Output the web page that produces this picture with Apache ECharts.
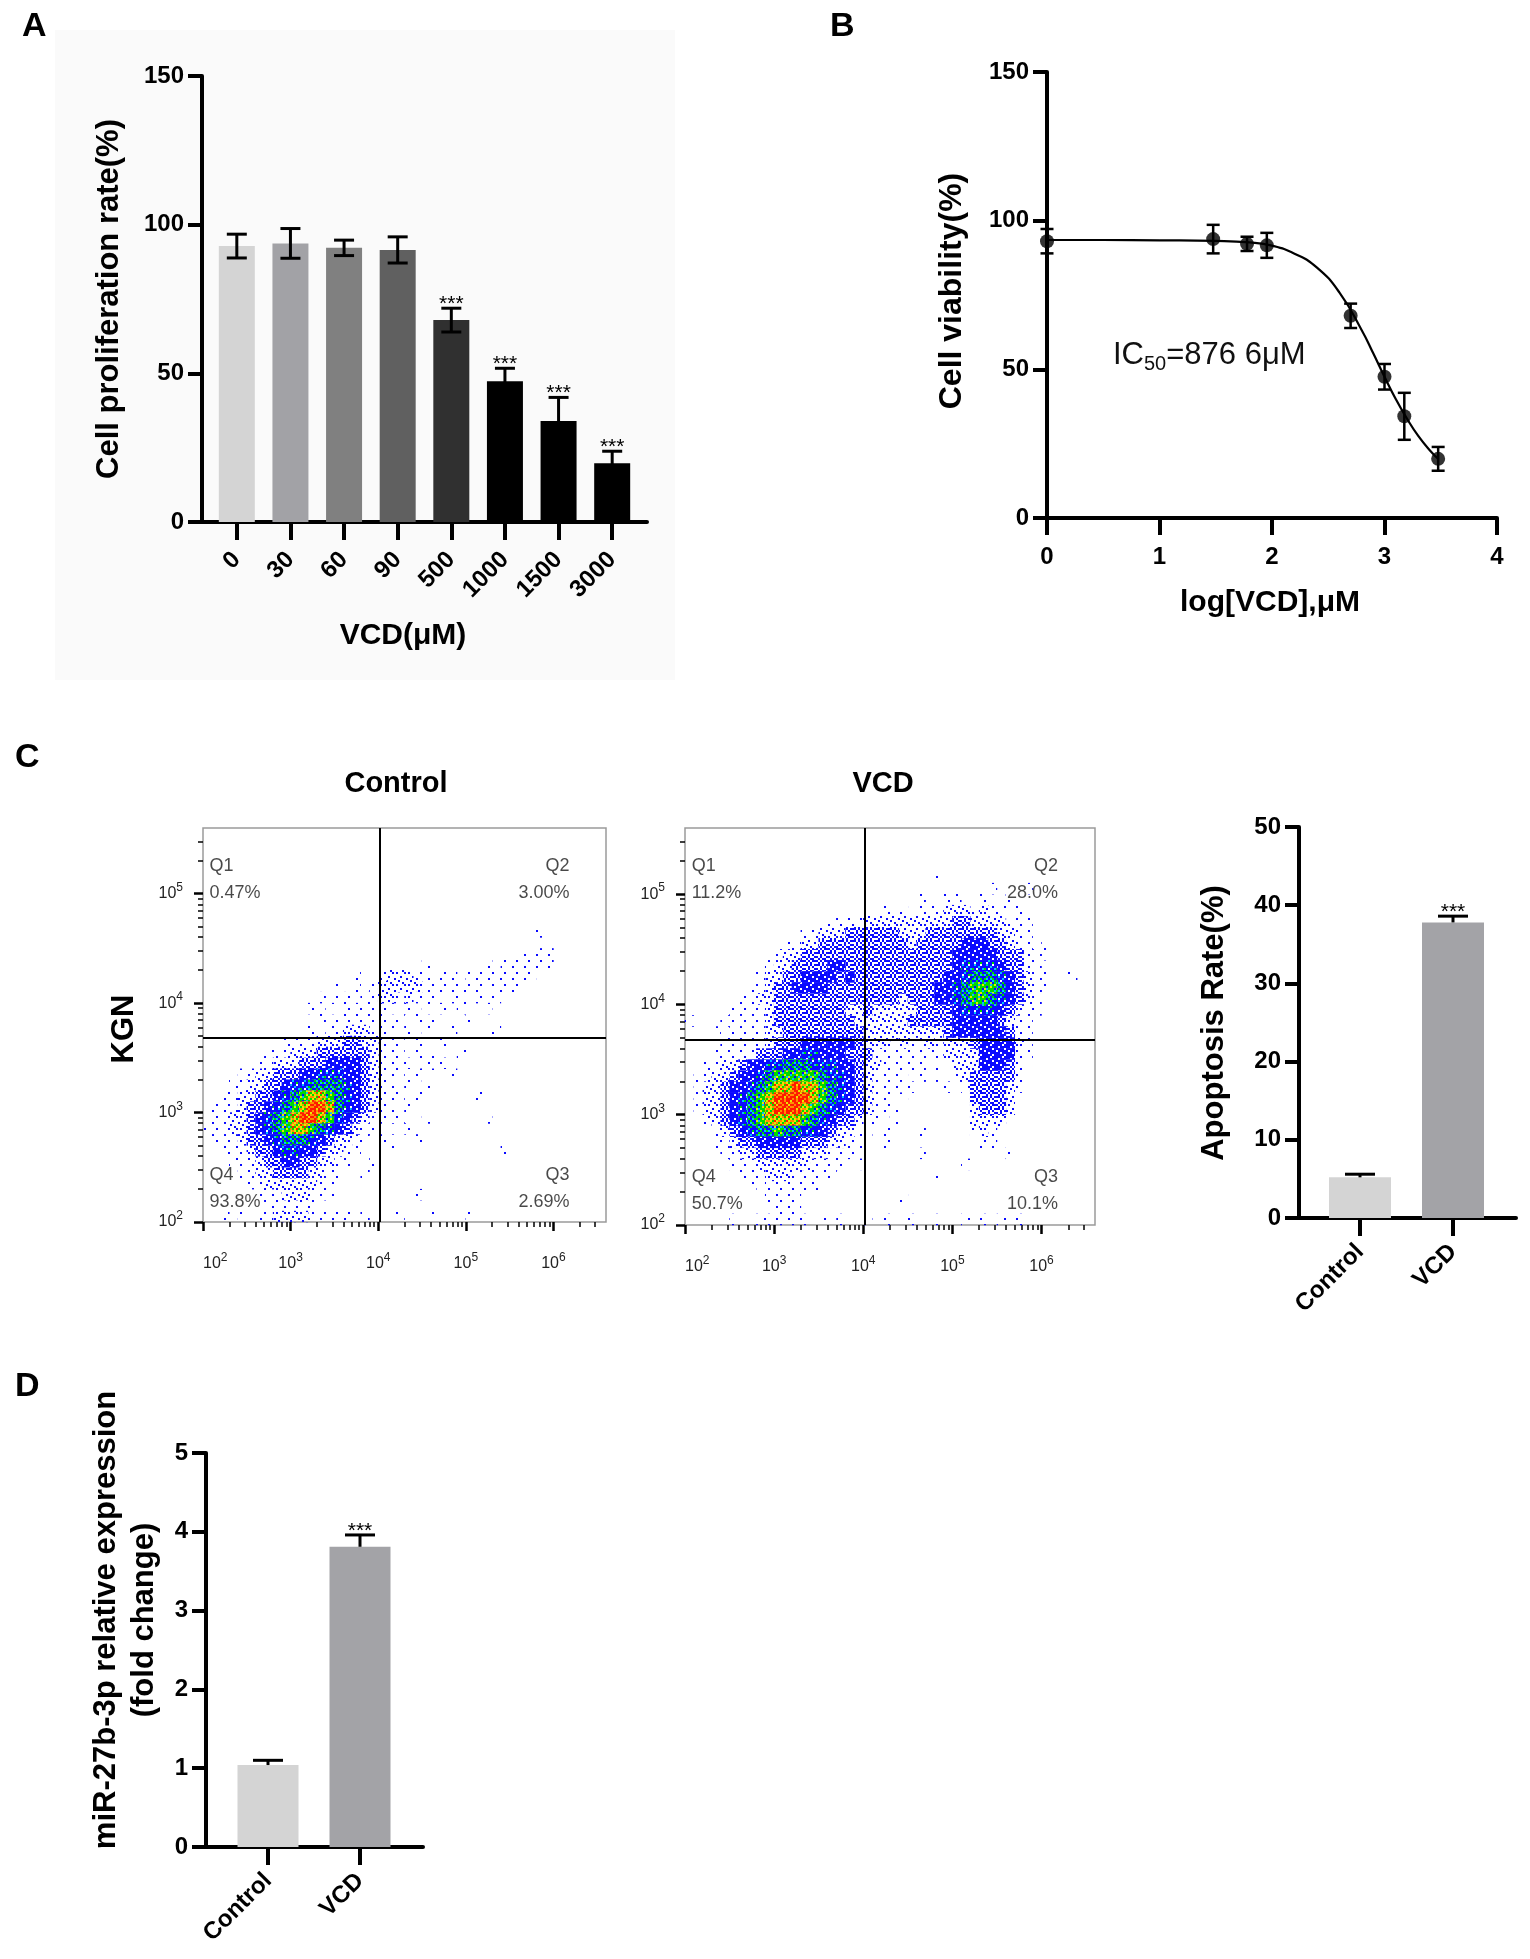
<!DOCTYPE html>
<html lang="en">
<head>
<meta charset="utf-8" />
<title>VCD cell assays</title>
</head>
<body style="margin: 0; background: #ffffff">
<div id="container" style="width: 1530px; height: 1959px"></div>
<script src="https://cdn.jsdelivr.net/npm/echarts@6/dist/echarts.min.js"></script>
<script>
// ---------- values ----------
// A: proliferation bars
const doseLabels = ['0', '30', '60', '90', '500', '1000', '1500', '3000'];
const prolifMean = [92.8, 93.7, 92.2, 91.5, 67.9, 47.3, 34.0, 19.8];
const prolifSd = [4.0, 5.0, 2.6, 4.4, 4.0, 4.4, 7.9, 4.0];
const prolifSig = ['', '', '', '', '***', '***', '***', '***'];

// B: viability vs log dose, and the fitted curve
const logDose = [0, 1.477, 1.778, 1.954, 2.699, 3.0, 3.176, 3.477];
const viabMean = [93.1, 93.8, 92.2, 91.7, 68.0, 47.5, 34.2, 19.9];
const viabSd = [4.1, 4.8, 2.4, 4.2, 4.1, 4.3, 7.9, 4.0];
const fitLogDose = [0, 0.5, 1.0, 1.5, 1.8, 2.0, 2.2, 2.4, 2.6, 2.8, 2.9, 3.0, 3.1, 3.2, 3.3, 3.4, 3.48];
const fitViab = [93.5, 93.5, 93.4, 93.2, 92.7, 91.6, 88.9, 84.2, 75.8, 63.0, 55.4, 47.5, 40.0, 33.4, 27.6, 22.9, 19.8];

// C: flow quadrants (Q1..Q4) and apoptosis bars
const quadNames = ['Q1', 'Q2', 'Q3', 'Q4'];
const ctlQuadPct = ['0.47%', '3.00%', '2.69%', '93.8%'];
const vcdQuadPct = ['11.2%', '28.0%', '10.1%', '50.7%'];
const gateLogX = 4.02;
const gateLogY = 3.68;
const groups = ['Control', 'VCD'];
const apopMean = [5.2, 37.8];
const apopSd = [0.4, 0.8];
const apopSig = ['', '***'];

// dot density, estimated by eye on 0.1-decade bins: rows top (10^5.6) to bottom (10^2),
// columns from 10^2 to 10^6.6; 0 empty, 1 a few dots ... 9 densest (red)
const ctlDensity = [
  '', '', '', '', '', '', '', '', '',
  '0000000000 0000000000 0000000000 0000000010',
  '',
  '0000000000 0000000000 0000000000 0000001011',
  '0000000000 0000000000 0000010000 0010111111',
  '0000000000 0000000100 1222110110 1111111100',
  '0000000000 0000010101 2222211111 1101110000',
  '0000000000 0001011011 2212111011 0101000000',
  '0000000000 0010101111 1101010101 0010000000',
  '0000000000 0001011111 1010101000 1000000000',
  '0000000000 0010112221 1101010010 0001000000',
  '0000000001 1112223322 1110100100',
  '0000000111 2223333332 1110101001',
  '0000001122 2333444432 1111010100',
  '0000112233 3445554432 1110101010',
  '0001122334 5566665432 1101010000',
  '0011223345 6788765432 1110100000 0100000000',
  '0111233456 7899865432 1101000000',
  '0112234567 8998754321 1010010000 0010000000',
  '1112234567 8876543211 0101000000',
  '0111233456 6654322110 1000100000',
  '0011123345 5443221100 0100000000 0000100000',
  '0001112334 4332211001',
  '0000112233 3322110010',
  '0000011222 2221100000',
  '0000001112 2211100000 0000100000',
  '0000000111 1110000000',
  '0010101122 2211111010 0010001000 1000000000'
];
const vcdDensity = [
  '', '', '', '',
  '0000000000 0000000000 0000000010',
  '0000000000 0000000000 0000000000 0000100010',
  '0000000000 0000000000 0000001001 1001001000',
  '0000000000 0000000000 0010101112 2212110100',
  '0000000000 0000001111 2222222222 3322221110',
  '0000000000 0001122233 3333222333 3333322110',
  '0000000000 0112233333 3333323333 3444332110 100000',
  '0000000000 1223333333 3333333333 4444433311 100000',
  '0000000001 2233334433 3333333333 4555543311',
  '0000000012 2334444343 3333333334 4566654321 100100',
  '0000000112 3344443333 3333333344 5677764321 100000',
  '0000001122 3333333333 3333233344 5677654321',
  '0000011112 3333333322 3222223333 4555543211',
  '1000111112 3333333332 2222233333 4444432110',
  '0001011112 2333333333 2222222223 4444443110',
  '0000111112 3334444443 2221211212 2234444210',
  '0001111133 3445544433 3111111112 2224444110',
  '0011223445 5666555443 2211111010 2224443100',
  '0112234456 7777765543 2111101010 1233333100',
  '0122344567 8898876543 2111010001 0133332100',
  '0122345678 9999876543 2110100000 0033332000',
  '0122345678 9998765433 2111000000 0023332000',
  '0012345678 8887654332 1101000000 0022220000',
  '0001234566 7665543221 1010001000 0012100000',
  '0001123344 4443332211 0010000000 0001100000',
  '0000112233 3332221110 0000001000 0000001000',
  '0000011122 2222111101 0000000000 0100000000',
  '0000001112 2211111000 0000000010',
  '0000000101 1111100000',
  '0000000001 1110000000 0000100000',
  '0000000000 1110000000',
  '0000010011 1111010100 1010010010 0101010100'
];
const decadeX = [2, 3, 4, 5, 6];
const decadeY = [2, 3, 4, 5];

// D: miR-27b-3p
const mirMean = [1.04, 3.81];
const mirSd = [0.06, 0.15];
const mirSig = ['', '***'];

// ---------- styling ----------
var FONT = '"Liberation Sans", Arial, Helvetica, sans-serif';
var AXIS_LINE = { color: '#000', width: 4 };
var barShades = ['#d4d4d4', '#a2a2a6', '#808080', '#606060', '#303030', '#000000', '#000000', '#000000'];
var groupShades = ['#d4d4d4', '#a3a3a7'];

// speckle textures used to fill the density bins (one tile per density level)
var dotColors = { b: '#0a0aff', c: '#00c0ff', g: '#00d800', y: '#e8e800', o: '#ff8c00', r: '#ff1a00' };
var speckle = {
  1: ['b.....', '......', '......', '....b.', '......', '......'],
  2: ['b...b.', '......', '..b...', '.....b', '.b....', '...b..'],
  3: ['b.b.bb', '.b.b..', 'bb.b.b', '..b.b.', 'b.b..b', '.b.bb.'],
  4: ['bbb.bb', 'b.bbbb', 'bbbb.b', '.bbbbb', 'bb.bbb', 'bbbb.b'],
  5: ['bbcbbb', 'b.bbgb', 'bcbb.b', 'bbbcbb', 'gb.bbc', 'bbbgbb'],
  6: ['bgcbgb', 'cbgbcg', 'bgbgbb', 'gcbcgb', 'bbgbcg', 'gcbgbb'],
  7: ['gggcgy', 'gbgygg', 'ycgggb', 'ggyggc', 'gbgcyg', 'cggybg'],
  8: ['yogyrg', 'gyoygy', 'oygryo', 'ygoyog', 'royogy', 'ygrgyo'],
  9: ['rorryr', 'orroro', 'rryror', 'ororrr', 'rrorry', 'orryro']
};
function makeTile(rows) {
  var px = 2;
  var cv = document.createElement('canvas');
  cv.width = rows[0].length * px;
  cv.height = rows.length * px;
  var ctx = cv.getContext('2d');
  rows.forEach(function (row, j) {
    for (var i = 0; i < row.length; i++) {
      var col = dotColors[row[i]];
      if (col) { ctx.fillStyle = col; ctx.fillRect(i * px, j * px, px, px); }
    }
  });
  return { image: cv, repeat: 'repeat' };
}
var tiles = {};
Object.keys(speckle).forEach(function (k) { tiles[k] = makeTile(speckle[k]); });

var dom = document.getElementById('container');
var myChart = echarts.init(dom, null, { renderer: 'canvas' });

var grids = [], xAxes = [], yAxes = [], series = [], graphics = [];
function addGrid(g) { grids.push(g); return grids.length - 1; }
function addX(a) { xAxes.push(a); return xAxes.length - 1; }
function addY(a) { yAxes.push(a); return yAxes.length - 1; }

function boldLabel(size, margin) {
  return { fontFamily: FONT, fontWeight: 'bold', fontSize: size, color: '#000', margin: margin };
}

// error bars (and significance stars) drawn through the axes of the series
function errorSeries(xi, yi, xs, mean, sd, sig, capHalf, both, lw) {
  return {
    type: 'custom',
    xAxisIndex: xi,
    yAxisIndex: yi,
    silent: true,
    z: 5,
    data: mean.map(function (m, i) { return [xs[i], m, sd[i], i]; }),
    renderItem: function (params, api) {
      var x = api.value(0), m = api.value(1), s = api.value(2), i = api.value(3);
      var top = api.coord([x, m + s]);
      var bot = api.coord([x, both ? m - s : m]);
      var line = { stroke: '#000', lineWidth: lw };
      var kids = [
        { type: 'line', shape: { x1: top[0], y1: top[1], x2: bot[0], y2: bot[1] }, style: line },
        { type: 'line', shape: { x1: top[0] - capHalf, y1: top[1], x2: top[0] + capHalf, y2: top[1] }, style: line }
      ];
      if (both) {
        kids.push({ type: 'line', shape: { x1: bot[0] - capHalf, y1: bot[1], x2: bot[0] + capHalf, y2: bot[1] }, style: line });
      }
      if (sig && sig[i]) {
        kids.push({
          type: 'text', x: top[0], y: top[1] - 4,
          style: { text: sig[i], font: '21px ' + FONT, fill: '#000',
            textAlign: 'center', align: 'center', textVerticalAlign: 'middle', verticalAlign: 'middle' }
        });
      }
      return { type: 'group', children: kids };
    }
  };
}

function barPanel(p) {
  var gF = addGrid({ left: p.left, top: p.top, width: p.width, height: p.height });
  var gC = addGrid({ left: p.catLeft, top: p.top, width: p.catWidth, height: p.height });
  addX({ gridIndex: gF, type: 'value', min: 0, max: 1,
    axisLine: { show: true, onZero: false, lineStyle: AXIS_LINE },
    axisTick: { show: false }, axisLabel: { show: false }, splitLine: { show: false } });
  addY({ gridIndex: gF, type: 'value', min: 0, max: p.yMax, interval: p.yStep,
    axisLine: { show: true, lineStyle: AXIS_LINE },
    axisTick: { show: true, length: 14, lineStyle: AXIS_LINE },
    axisLabel: boldLabel(24, 18), splitLine: { show: false } });
  var xc = addX({ gridIndex: gC, type: 'category', data: p.cats,
    axisLine: { show: false },
    axisTick: { show: true, alignWithLabel: true, interval: 0, length: 18, lineStyle: AXIS_LINE },
    axisLabel: Object.assign(boldLabel(24, p.labelMargin), { rotate: 45, interval: 0 }),
    splitLine: { show: false } });
  var yc = addY({ gridIndex: gC, type: 'value', min: 0, max: p.yMax, show: false });
  series.push({
    type: 'bar', xAxisIndex: xc, yAxisIndex: yc, barWidth: p.barWidth, silent: true,
    data: p.mean.map(function (v, i) { return { value: v, itemStyle: { color: p.colors[i] } }; })
  });
  series.push(errorSeries(xc, yc, p.mean.map(function (v, i) { return i; }),
    p.mean, p.sd, p.sig, p.cap, p.both, 3));
}

function minorTicks(lo, hi) {
  var out = [];
  for (var d = Math.floor(lo); d < hi; d++) {
    for (var k = 2; k <= 9; k++) {
      var v = d + Math.log10(k);
      if (v > lo && v < hi) out.push(v);
    }
  }
  return out;
}

function decadeAxis(g, dir, lo, hi, majors) {
  return {
    gridIndex: g, type: 'value', min: lo, max: hi, position: dir === 'x' ? 'bottom' : 'left',
    axisLine: { show: false }, splitLine: { show: false },
    axisTick: { show: true, customValues: majors, length: 9, lineStyle: { color: '#000', width: 2.5 } },
    axisLabel: {
      show: true, customValues: majors, margin: dir === 'x' ? 30 : 20,
      alignMinLabel: dir === 'x' ? 'left' : null,
      formatter: function (v) { return '10{s|' + Math.round(v) + '}'; },
      fontFamily: FONT, fontSize: 16, lineHeight: 24, color: '#222',
      rich: { s: { fontFamily: FONT, fontSize: 12, color: '#222', verticalAlign: 'top' } }
    }
  };
}

function minorAxis(g, dir, lo, hi) {
  return {
    gridIndex: g, type: 'value', min: lo, max: hi, position: dir === 'x' ? 'bottom' : 'left',
    axisLine: { show: false }, splitLine: { show: false }, axisLabel: { show: false },
    axisTick: { show: true, customValues: minorTicks(lo, hi), length: 5, lineStyle: { color: '#000', width: 1.5 } }
  };
}

var quadAnchor = [[2.08, 5.37], [6.19, 5.37], [6.19, 2.55], [2.08, 2.55]];
var quadAlign = ['left', 'right', 'right', 'left'];

function flowPanel(box, density, pct) {
  var xLo = 2, xHi = 6.6, yLo = 2, yHi = 5.6;
  var nx = 46, ny = 36;
  var g = addGrid({ left: box.left, top: box.top, width: box.width, height: box.height,
    show: true, borderColor: '#9b9b9b', borderWidth: 1.5, backgroundColor: '#fff' });
  var xb = [], yb = [];
  for (var i = 0; i < nx; i++) xb.push('c' + i);
  for (var j = 0; j < ny; j++) yb.push('r' + j);
  var xc = addX({ gridIndex: g, type: 'category', data: xb, show: false });
  var yc = addY({ gridIndex: g, type: 'category', data: yb, show: false });
  var xv = addX(decadeAxis(g, 'x', xLo, xHi, decadeX));
  addX(minorAxis(g, 'x', xLo, xHi));
  var yv = addY(decadeAxis(g, 'y', yLo, yHi, decadeY));
  addY(minorAxis(g, 'y', yLo, yHi));

  var cells = [];
  density.forEach(function (row, r) {
    var s = row.replace(/ /g, '');
    for (var c = 0; c < s.length; c++) {
      var lv = +s[c];
      if (lv > 0) cells.push({ value: [c, ny - 1 - r, lv], itemStyle: { color: tiles[lv] } });
    }
  });
  series.push({ type: 'heatmap', xAxisIndex: xc, yAxisIndex: yc, data: cells, silent: true,
    itemStyle: { borderWidth: 0 }, emphasis: { disabled: true } });
  series.push({
    type: 'scatter', xAxisIndex: xv, yAxisIndex: yv, symbolSize: 1, silent: true, z: 6,
    itemStyle: { color: 'rgba(0,0,0,0)' },
    label: { show: true, formatter: '{b}', position: [0, 0], verticalAlign: 'top',
      fontFamily: FONT, fontSize: 18, lineHeight: 27, color: '#1a1a1a' },
    data: quadNames.map(function (q, i) {
      return { name: q + '\n' + pct[i], value: quadAnchor[i], label: { align: quadAlign[i] } };
    }),
    markLine: {
      silent: true, symbol: ['none', 'none'], label: { show: false },
      lineStyle: { color: '#000', width: 2, type: 'solid' },
      data: [{ xAxis: gateLogX }, { yAxis: gateLogY }]
    }
  });
}

// ---------- panel A ----------
barPanel({
  left: 202, top: 76, width: 445, height: 446, catLeft: 210, catWidth: 429,
  yMax: 150, yStep: 50, cats: doseLabels, mean: prolifMean, sd: prolifSd, sig: prolifSig,
  colors: barShades, barWidth: 36, cap: 10, both: true, labelMargin: 34
});

// ---------- panel B ----------
var gB = addGrid({ left: 1047, top: 72, width: 450, height: 446 });
var xB = addX({ gridIndex: gB, type: 'value', min: 0, max: 4, interval: 1,
  axisLine: { show: true, onZero: false, lineStyle: AXIS_LINE },
  axisTick: { show: true, length: 17, lineStyle: AXIS_LINE },
  axisLabel: boldLabel(24, 27), splitLine: { show: false } });
var yB = addY({ gridIndex: gB, type: 'value', min: 0, max: 150, interval: 50,
  axisLine: { show: true, lineStyle: AXIS_LINE },
  axisTick: { show: true, length: 14, lineStyle: AXIS_LINE },
  axisLabel: boldLabel(24, 18), splitLine: { show: false } });
series.push({
  type: 'line', xAxisIndex: xB, yAxisIndex: yB, smooth: true, symbol: 'none', silent: true,
  lineStyle: { color: '#000', width: 2.2 },
  data: fitLogDose.map(function (x, i) { return [x, fitViab[i]]; })
});
series.push(errorSeries(xB, yB, logDose, viabMean, viabSd, null, 6.5, true, 2.5));
series.push({
  type: 'scatter', xAxisIndex: xB, yAxisIndex: yB, symbolSize: 14, silent: true, z: 6,
  itemStyle: { color: '#000' },
  data: logDose.map(function (x, i) { return [x, viabMean[i]]; })
});

// ---------- panel C ----------
flowPanel({ left: 203, top: 828, width: 403, height: 394 }, ctlDensity, ctlQuadPct);
flowPanel({ left: 685, top: 828, width: 410, height: 397 }, vcdDensity, vcdQuadPct);
barPanel({
  left: 1299, top: 827, width: 217, height: 391, catLeft: 1313.5, catWidth: 186,
  yMax: 50, yStep: 10, cats: groups, mean: apopMean, sd: apopSd, sig: apopSig,
  colors: groupShades, barWidth: 62, cap: 15, both: false, labelMargin: 30
});

// ---------- panel D ----------
barPanel({
  left: 206, top: 1453, width: 217, height: 394, catLeft: 222, catWidth: 184,
  yMax: 5, yStep: 1, cats: groups, mean: mirMean, sd: mirSd, sig: mirSig,
  colors: groupShades, barWidth: 61, cap: 15, both: false, labelMargin: 30
});

// ---------- free text ----------
function txt(x, y, text, font, opts) {
  opts = opts || {};
  var style = {
    text: text, font: font, fill: opts.fill || '#000',
    textAlign: opts.align || 'center', align: opts.align || 'center',
    textVerticalAlign: opts.valign || 'middle', verticalAlign: opts.valign || 'middle'
  };
  if (opts.lineHeight) style.lineHeight = opts.lineHeight;
  if (opts.rich) style.rich = opts.rich;
  graphics.push({ type: 'text', x: x, y: y, rotation: opts.rot || 0, silent: true, style: style });
}
var BOLD31 = 'bold 31px ' + FONT;
var LETTER = 'bold 34px ' + FONT;

graphics.push({ type: 'rect', shape: { x: 55, y: 30, width: 620, height: 650 },
  style: { fill: '#fafafa' }, silent: true, z: -10 });

txt(22, 10, 'A', LETTER, { align: 'left', valign: 'top' });
txt(830, 10, 'B', LETTER, { align: 'left', valign: 'top' });
txt(15, 741, 'C', LETTER, { align: 'left', valign: 'top' });
txt(15, 1370, 'D', LETTER, { align: 'left', valign: 'top' });

txt(109, 299, 'Cell proliferation rate(%)', BOLD31, { rot: Math.PI / 2 });
txt(403, 636, 'VCD(μM)', 'bold 30px ' + FONT);
txt(952, 291, 'Cell viability(%)', 'bold 32px ' + FONT, { rot: Math.PI / 2 });
txt(1270, 603, 'log[VCD],μM', 'bold 30px ' + FONT);
txt(1113, 355, 'IC{sub|50}=876 6μM', '31px ' + FONT, {
  align: 'left', lineHeight: 38, fill: '#111',
  rich: { sub: { font: '20px ' + FONT, fill: '#111', verticalAlign: 'bottom' } }
});

txt(396, 784, 'Control', 'bold 29px ' + FONT);
txt(883, 784, 'VCD', 'bold 29px ' + FONT);
txt(124, 1029, 'KGN', BOLD31, { rot: Math.PI / 2 });
txt(1214, 1023, 'Apoptosis Rate(%)', BOLD31, { rot: Math.PI / 2 });
txt(125, 1620, 'miR-27b-3p relative expression\n(fold change)', BOLD31,
  { rot: Math.PI / 2, lineHeight: 38 });

var option = {
  backgroundColor: '#ffffff',
  animation: false,
  textStyle: { fontFamily: FONT },
  grid: grids,
  xAxis: xAxes,
  yAxis: yAxes,
  series: series,
  graphic: { elements: graphics }
};
myChart.setOption(option);
window.addEventListener('resize', myChart.resize);
</script>
</body>
</html>
